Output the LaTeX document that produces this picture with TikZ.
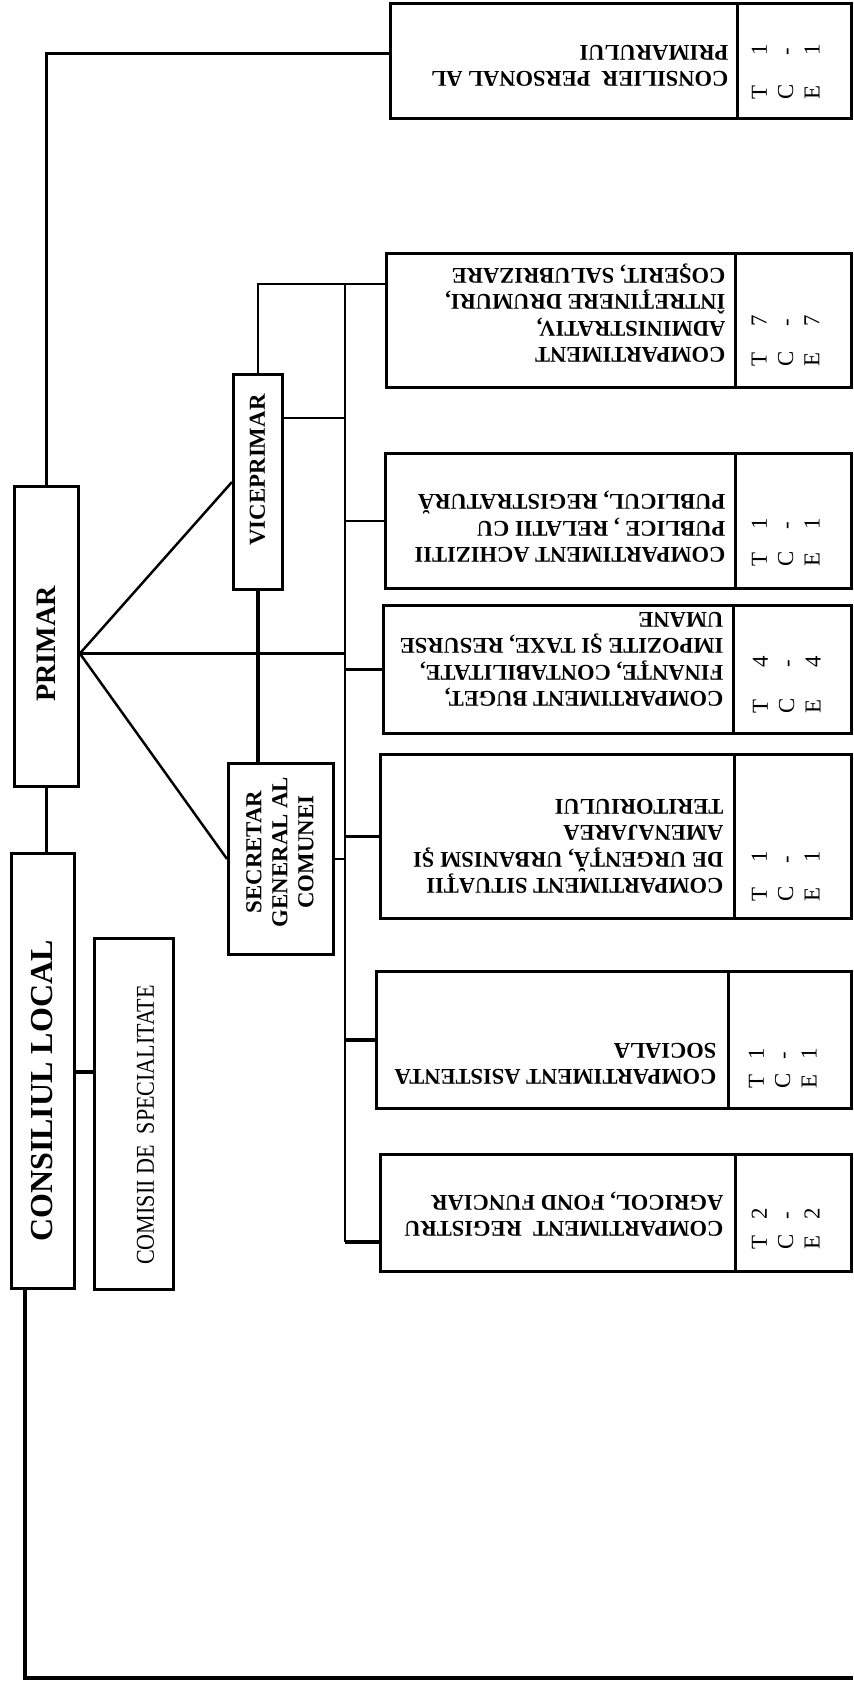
\documentclass[tikz,border=0pt]{standalone}
\usepackage{fontspec}
\setmainfont{Liberation Serif}
\usepackage{graphicx}
\usetikzlibrary{positioning}

\tikzset{
  box/.style={draw, line width=0.8pt, inner sep=0pt, anchor=north west},
  link/.style={line width=0.7pt},
  stub/.style={line width=1.2pt},
  head/.style={font=\bfseries, inner sep=0pt, rotate=90, align=center},
  comptext/.style={font=\bfseries\fontsize{6.4}{7.5}\selectfont, inner sep=0pt,
    rotate=180, align=left, anchor=north west},
  staff/.style={font=\fontsize{6.5}{7.5}\selectfont, inner sep=0pt,
    rotate=90, align=left, anchor=north west},
}
% T / C / E column of a compartment
\newcommand{\tce}[2]{\makebox[#1][l]{T}#2\\\makebox[#1][l]{C}-\\\makebox[#1][l]{E}#2}

\begin{document}
\begin{tikzpicture}[x=0.01cm, y=-0.01cm]
\useasboundingbox (0,0) rectangle (853,1693);
\clip (0,0) rectangle (853,1693);

% Head boxes
\node[box, minimum width=0.64cm, minimum height=3.00cm] (primar) at (13,485) {};
\node[box, minimum width=0.63cm, minimum height=4.35cm] (cl) at (10,852) {};
\node[box, minimum width=0.79cm, minimum height=3.51cm] (com) at (93,937) {};
\node[box, minimum width=0.49cm, minimum height=2.15cm] (vice) at (232,373) {};
\node[box, minimum width=1.05cm, minimum height=1.91cm] (secr) at (227,762) {};

\node[head, font=\bfseries\fontsize{8}{9}\selectfont] (primartxt) at (46,644) {PRIMAR};
\node[head, font=\bfseries\fontsize{9.1}{10}\selectfont] (cltxt) at (42.5,1091) {CONSILIUL LOCAL};
\node[head, font=\fontsize{7.3}{8}\selectfont] (comtxt) at (145.5,1125)
  {\scalebox{0.86}[1]{COMISII DE\ \ SPECIALITATE}};
\node[head, font=\bfseries\fontsize{6.5}{7}\selectfont] (vicetxt) at (257.5,470) {VICEPRIMAR};
\node[head, font=\bfseries\fontsize{6.5}{7.4}\selectfont] (secrtxt) at (280,852)
  {SECRETAR\\GENERAL AL\\COMUNEI};

% Compartments: text part and staff part
\foreach \nm/\xl/\yt/\yb/\xd in {cons/389/2/117/736, adm/385/252/386/734,
    ach/384/452/587/734, bug/382/604/732/732, sit/379/753/917/733,
    asi/375/970/1107/727, reg/379/1153/1270/734} {
  \node[box, minimum width={(\xd-\xl)*0.01cm}, minimum height={(\yb-\yt)*0.01cm}] (\nm) at (\xl,\yt) {};
  \node[box, minimum width={(850-\xd)*0.01cm}, minimum height={(\yb-\yt)*0.01cm}] (n\nm) at (\xd,\yt) {};
}

\node[comptext] (constxt) at (729,87) {CONSILIER\ \ PERSONAL AL\\PRIMARULUI};
\node[comptext] (admtxt) at (726,363) {COMPARTIMENT\\ADMINISTRATIV,\\ÎNTREŢINERE DRUMURI,\\COŞERIT, SALUBRIZARE};
\node[comptext] (achtxt) at (726,563) {COMPARTIMENT ACHIZITII\\PUBLICE , RELATII CU\\PUBLICUL, REGISTRATURĂ};
\node[comptext] (bugtxt) at (724,707) {COMPARTIMENT BUGET,\\FINANŢE, CONTABILITATE,\\IMPOZITE ŞI TAXE, RESURSE\\UMANE};
\node[comptext] (sittxt) at (724,894) {COMPARTIMENT SITUAŢII\\DE URGENŢĂ, URBANISM ŞI\\AMENAJAREA\\TERITORIULUI};
\node[comptext] (asitxt) at (717,1085) {COMPARTIMENT ASISTENTA\\SOCIALA};
\node[comptext] (regtxt) at (724,1237) {COMPARTIMENT\ \ REGISTRU\\AGRICOL, FOND FUNCIAR};

\node[staff] (consst) at (751,100) {\tce{12.6pt}{1}};
\node[staff] (admst) at (751,367) {\tce{11.2pt}{7}};
\node[staff] (achst) at (751,567) {\tce{10.4pt}{1}};
\node[staff] (bugst) at (752,714) {\tce{12.9pt}{4}};
\node[staff] (sitst) at (751,902) {\tce{10.9pt}{1}};
\node[staff] (asist) at (748,1089) {\tce{8.1pt}{1}};
\node[staff] (regst) at (751,1250) {\tce{8.4pt}{2}};

% Connectors
\coordinate (bustop) at (345,284);
\coordinate (busbot) at (345,1242);
\coordinate (fan) at ([yshift=-0.17cm]primar.east);
\coordinate (rend) at (853,1678);

\draw[link] (primar.north) |- ([yshift=0.075cm]cons.west);
\draw[link, line width=0.9pt] (primar.south) -- (primar.south |- cl.north);
\draw[link, line width=0.9pt] (cl.south -| 25,0) |- (rend);
\draw[stub] (cl.east |- 0,1072) -- (com.west |- 0,1072);

\draw[link] (fan) -- (vice.west);
\draw[link] (fan) -- (secr.west);
\draw[link] (fan) -- (fan -| bustop);
\draw[link] (vice.north) |- (adm.west |- bustop);
\draw[link, line width=0.9pt] (vice.south) -- (vice.south |- secr.north);
\draw[link] (vice.east |- 0,418) -- (bustop |- 0,418);
\draw[link] (bustop) -- (busbot);
\draw[link] (secr.east) -- (secr.east -| bustop);
\draw[link] (ach.west -| bustop) -- (ach.west);
\draw[link] (bug.west -| bustop) -- (bug.west);
\draw[link] (sit.west -| bustop) -- (sit.west);
\draw[stub] (asi.west -| bustop) -- (asi.west);
\draw[stub] (busbot) -- (reg.west |- busbot);
\end{tikzpicture}
\end{document}
